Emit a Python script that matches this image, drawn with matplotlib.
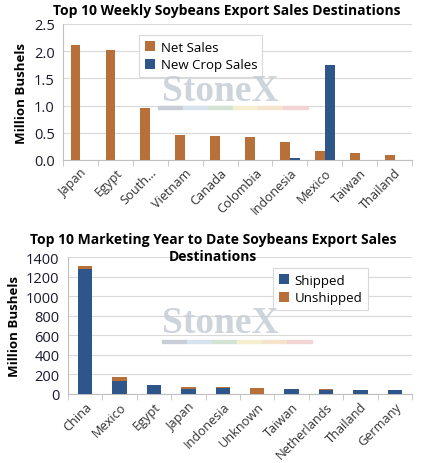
import numpy as np
import matplotlib.pyplot as plt
from matplotlib.patches import Rectangle

plt.rcParams['font.family'] = ['Open Sans', 'DejaVu Sans']

# weekly sales (million bushels)
weekly_countries = ['Japan', 'Egypt', 'South...', 'Vietnam', 'Canada', 'Colombia',
                    'Indonesia', 'Mexico', 'Taiwan', 'Thailand']
net_sales = [2.12, 2.02, 0.95, 0.46, 0.45, 0.43, 0.33, 0.16, 0.13, 0.10]
new_crop_sales = [0, 0, 0, 0, 0, 0, 0.03, 1.75, 0, 0]

# marketing year to date (million bushels)
mytd_countries = ['China', 'Mexico', 'Egypt', 'Japan', 'Indonesia', 'Unknown',
                  'Taiwan', 'Netherlands', 'Thailand', 'Germany']
shipped = [1282, 130, 96, 52, 62, 0, 46, 45, 42, 37]
unshipped = [28, 41, 1, 24, 10, 57, 2, 2, 3, 2]

orange = '#b8703a'
blue = '#2e568b'
grid_c = '#d9d9d9'
tick_c = '#1a1a2e'

fig = plt.figure(figsize=(4.41, 4.64), dpi=100)
W, H = 441, 464


def style_axes(ax, labels):
    ax.set_axisbelow(True)
    ax.yaxis.grid(True, color=grid_c, linewidth=0.8)
    for s in ['top', 'right']:
        ax.spines[s].set_visible(False)
    ax.spines['left'].set_color('#bfbfbf')
    ax.spines['bottom'].set_color('#bfbfbf')
    n = len(labels)
    ax.set_xlim(-0.5, n - 0.5)
    ax.set_xticks(np.arange(n))
    ax.set_xticklabels(labels, rotation=45, ha='right', rotation_mode='anchor',
                       fontsize=9.2, color='#333333')
    ax.tick_params(axis='x', length=0, pad=4)
    ax.set_xticks(np.arange(n + 1) - 0.5, minor=True)
    ax.tick_params(axis='x', which='minor', length=4, color='#bfbfbf')
    ax.tick_params(axis='y', length=0, labelsize=10.5, labelcolor=tick_c, pad=6)
    ax.set_ylabel('Million Bushels', fontsize=9.5, fontweight='bold')


def watermark(tx, ty, sx, sy):
    # StoneX logo text and colour strip, in pixel coords of the figure
    fig.text(tx / W, 1 - ty / H, 'StoneX', family='Liberation Serif', fontsize=27,
             color='#c6cdd6', fontweight='bold', ha='left', va='baseline',
             alpha=0.85, zorder=1)
    cols = ['#c8ced8', '#d7e4ef', '#d3e3d3', '#f5efcf', '#f6e3cc', '#f2d4d4']
    seg = 25
    for i, c in enumerate(cols):
        fig.patches.append(Rectangle(((sx + i * seg) / W, 1 - (sy + 3) / H),
                                     seg / W, 3 / H, transform=fig.transFigure,
                                     color=c, zorder=1))


def legend(ax, anchor, loc):
    leg = ax.legend(loc=loc, bbox_to_anchor=anchor, fontsize=9.5,
                    frameon=True, fancybox=False, edgecolor='#d9d9d9',
                    handlelength=0.8, handleheight=0.8, handletextpad=0.4,
                    borderpad=0.4, labelspacing=0.35, framealpha=1)
    leg.get_frame().set_linewidth(0.8)
    leg.set_zorder(5)


# top chart
ax1 = fig.add_axes([63 / W, 1 - 161 / H, 349 / W, 136 / H])
x = np.arange(len(weekly_countries))
bw = 0.28
ax1.bar(x - 0.14, net_sales, bw, color=orange, label='Net Sales', zorder=3)
ax1.bar(x + 0.14, new_crop_sales, bw, color=blue, label='New Crop Sales', zorder=3)
ax1.set_ylim(0, 2.5)
ax1.set_yticks(np.arange(0, 2.51, 0.5))
ax1.set_yticklabels([f'{v:.1f}' for v in np.arange(0, 2.51, 0.5)])
style_axes(ax1, weekly_countries)
fig.text(227 / W, 1 - 11 / H, 'Top 10 Weekly Soybeans Export Sales Destinations',
         fontsize=10, fontweight='bold', ha='center', va='center')
legend(ax1, (0.2, 0.965), 'upper left')

# bottom chart
ax2 = fig.add_axes([68 / W, 1 - 395 / H, 344 / W, 137 / H])
x2 = np.arange(len(mytd_countries))
ax2.bar(x2, shipped, 0.42, color=blue, label='Shipped', zorder=3)
ax2.bar(x2, unshipped, 0.42, bottom=shipped, color=orange, label='Unshipped', zorder=3)
ax2.set_ylim(0, 1400)
ax2.set_yticks(np.arange(0, 1401, 200))
style_axes(ax2, mytd_countries)
fig.text(213 / W, 1 - 240 / H, 'Top 10 Marketing Year to Date Soybeans Export Sales',
         fontsize=10, fontweight='bold', ha='center', va='center')
fig.text(213 / W, 1 - 257 / H, 'Destinations',
         fontsize=10, fontweight='bold', ha='center', va='center')
legend(ax2, (0.89, 0.965), 'upper right')

watermark(162, 101, 158, 107)
watermark(162, 333, 162, 341)

fig.savefig('out.png', dpi=100)
